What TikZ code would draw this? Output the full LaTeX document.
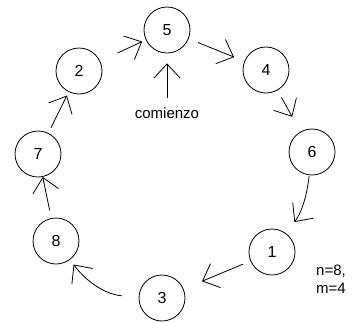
\documentclass[tikz,border=0pt]{standalone}
\usepackage{fontspec}
\setmainfont{Liberation Sans}
\usetikzlibrary{arrows.meta}
\begin{document}
\begin{tikzpicture}[x=1pt, y=-1pt,
	nodo/.style={draw, circle, minimum size=46pt, inner sep=0pt, line width=0.8pt, font=\fontsize{16}{18}\selectfont},
	flecha/.style={-{Straight Barb[length=14pt, width=26pt, line width=0.8pt]}, line width=0.8pt},
	texto/.style={font=\fontsize{15}{18}\selectfont, inner sep=1pt}]

\useasboundingbox (0, 0) rectangle (353, 322);

\foreach \num/\x/\y in {5/167/30, 4/266/70, 6/312/152, 1/272/252, 3/162/298, 8/56/241, 7/38/154, 2/79/71} {
	\node[nodo] (n\num) at (\x, \y) {\num};
}

\foreach \a/\b/\s/\e/\c in {2/5/19/4/0, 5/4/10/11/0, 4/6/8/17/0, 6/1/1/14/15, 1/3/8/20/0, 3/8/17/6/25, 8/7/8/0/0, 7/2/6/4/0} {
	\draw[flecha, shorten <=\s pt, shorten >=\e pt] (n\a) to[bend left=\c] (n\b);
}

\node[texto] (inicio) at (167, 113) {comienzo};
\draw[flecha, shorten <=8pt, shorten >=10pt] (inicio.north) -- (n5);

\node[texto, align=left, anchor=west] (datos) at (315, 279) {n=8,\\m=4};

\end{tikzpicture}
\end{document}
